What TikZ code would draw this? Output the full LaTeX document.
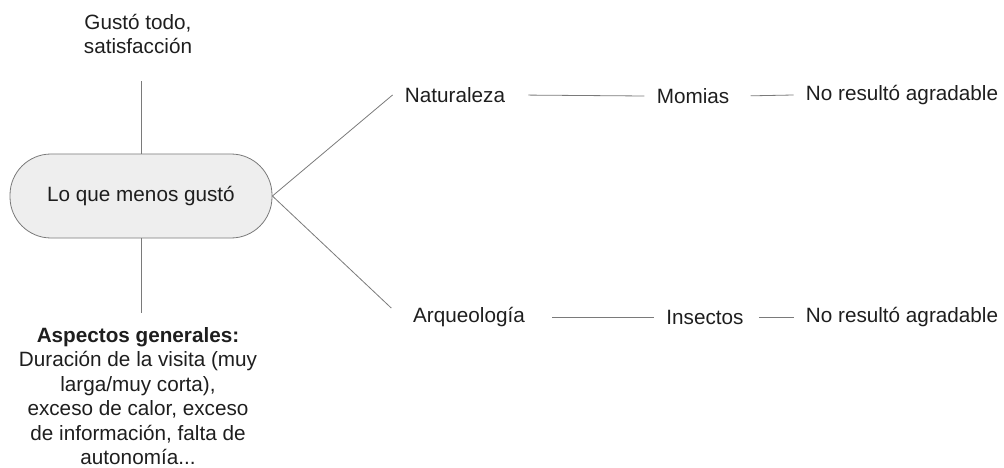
\documentclass[tikz,border=0pt]{standalone}
\usepackage{fontspec}
\setmainfont{Liberation Sans}
\usepackage{tikz}
\usetikzlibrary{calc}
\definecolor{linegray}{HTML}{7A7A7A}
\definecolor{pillfill}{HTML}{EEEEEE}
\definecolor{txt}{HTML}{1E1E1E}

\begin{document}
\begin{tikzpicture}[x=1pt,y=-1pt,line width=0.8pt,
    every node/.style={text=txt,font=\fontsize{20.7}{24.5}\selectfont},
    leaf/.style={inner xsep=12pt,inner ysep=4pt},
    pill/.style={draw=linegray,fill=pillfill,rounded corners=41pt,
      minimum width=262pt,minimum height=84pt},
    link/.style={draw=linegray,line width=0.8pt},
    ]
 \useasboundingbox (0,0) rectangle (1004,468);

 \node[pill] (lo) at (141,196) {Lo que menos gustó};
 \node[align=center] (gusto) at (138,34) {Gustó todo,\\satisfacción};
 \node[align=center] (aspectos) at (138,396) {\textbf{Aspectos generales:}\\Duración de la visita (muy\\larga/muy corta),\\exceso de calor, exceso\\de información, falta de\\autonomía...};

 \node[leaf] (nat) at (455,95) {Naturaleza};
 \node[leaf] (mom) at (693,96) {Momias};
 \node[leaf] (no1) at (902,95) {No resultó agradable};
 \node[leaf] (arq) at (469,317) {Arqueología};
 \node[leaf] (ins) at (705,317) {Insectos};
 \node[leaf] (no2) at (902,317) {No resultó agradable};

 \draw[link,shorten >=23pt] (lo.north) -- (lo.north|-gusto.south);
 \draw[link,shorten >=10pt] (lo.south) -- (lo.south|-aspectos.north);

 \draw[link] (lo.east) -- (nat.west);
 \draw[link,shorten >=13pt] (lo.east) -- (arq.west);
 \draw[link,shorten <=11pt] (nat.east) -- (mom.west);
 \draw[link,shorten <=9pt] (mom.east) -- (no1.west);
 \draw[link,shorten <=15pt] (arq.east) -- (ins.west);
 \draw[link,shorten <=3pt] (ins.east) -- (no2.west);
\end{tikzpicture}
\end{document}
